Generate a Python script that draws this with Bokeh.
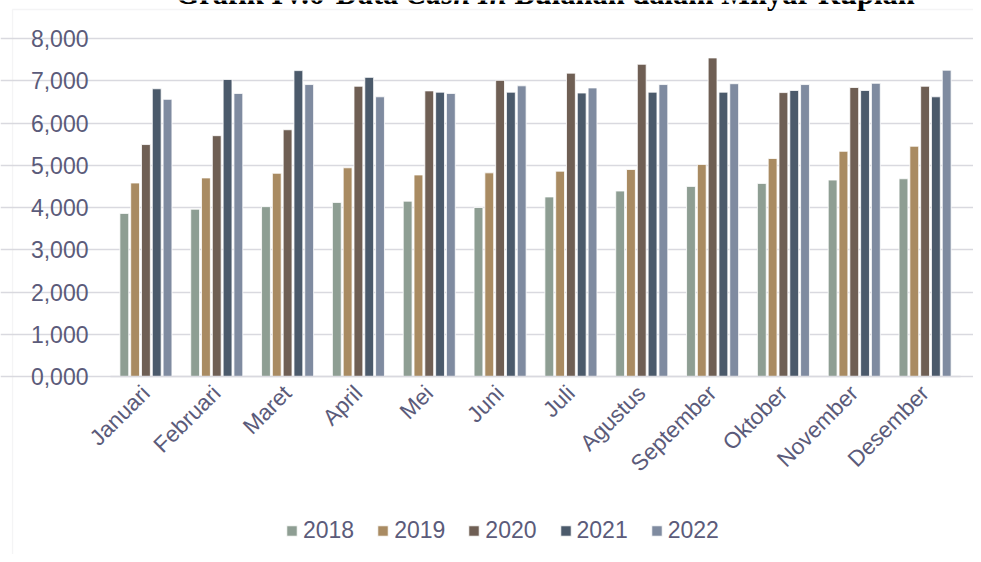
import math
from bokeh.plotting import figure
from bokeh.models import (Range1d, FixedTicker, Legend, LegendItem,
                          Label, PolyAnnotation, ColumnDataSource)
from bokeh.transform import dodge
from bokeh.embed import file_html
from bokeh.resources import INLINE

# ---------------- data ----------------
months = ["Januari", "Februari", "Maret", "April", "Mei", "Juni", "Juli",
          "Agustus", "September", "Oktober", "November", "Desember"]
years = ["2018", "2019", "2020", "2021", "2022"]
v2018 = [3860, 3960, 4020, 4120, 4150, 4000, 4250, 4390, 4500, 4570, 4650, 4680]
v2019 = [4580, 4700, 4810, 4940, 4770, 4820, 4860, 4900, 5020, 5160, 5330, 5450]
v2020 = [5490, 5700, 5840, 6870, 6760, 7010, 7180, 7390, 7540, 6720, 6840, 6870]
v2021 = [6810, 7030, 7240, 7080, 6730, 6730, 6710, 6730, 6730, 6770, 6770, 6620]
v2022 = [6560, 6700, 6910, 6620, 6700, 6880, 6830, 6910, 6930, 6910, 6940, 7250]
y_ticks = [0, 1000, 2000, 3000, 4000, 5000, 6000, 7000, 8000]
y_tick_labels = ["0,000", "1,000", "2,000", "3,000", "4,000", "5,000",
                 "6,000", "7,000", "8,000"]
title_parts = ["Grafik IV.6", "Data", "Cash In", "Bulanan dalam Milyar Rupiah"]
title_em = [5.0, 2.055, 3.307, 13.14]   # approximate widths (em) for placement

colors = ["#8e9e93", "#a98b62", "#6f5f54", "#4b5a6b", "#7f8ba0"]
text_color = "#5b5b7a"
grid_color = "#d9d9df"
FONT = "Liberation Sans"

# category positions on the x scale (1..12)
xc = [i + 1 for i in range(len(months))]
src = ColumnDataSource(dict(xc=xc, y2018=v2018, y2019=v2019,
                            y2020=v2020, y2021=v2021, y2022=v2022))

# layout in pixels: the plot area spans FL..FR horizontally, FT..FB vertically
W, H = 973, 554
FL, FR, FT, FB = 110, 960, 38, 376
KX = len(months) / (FR - FL)
KY = 8000 / (FB - FT)
def px_x(px):
    return 0.5 + (px - FL) * KX
def px_y(py):
    return (FB - py) * KY

p = figure(x_range=Range1d(px_x(0), px_x(W)), y_range=Range1d(px_y(H), px_y(0)),
           width=W, height=H, output_backend="svg", toolbar_location=None,
           title=None, min_border=0, min_border_left=0, min_border_right=0,
           min_border_top=0, min_border_bottom=0)
p.outline_line_color = None
p.background_fill_color = "white"
p.border_fill_color = "white"

offsets = [-0.305, -0.1525, 0.0, 0.1525, 0.305]
renderers = []
for yr, off, col in zip(years, offsets, colors):
    r = p.vbar(x=dodge("xc", off), top="y" + yr, width=0.125,
               source=src, fill_color=col, line_color="white", line_width=0.8)
    renderers.append(r)

# x axis (fixed at y = 0)
p.xaxis.fixed_location = 0
p.xaxis.bounds = (0.5, len(months) + 0.5)
p.xaxis.ticker = FixedTicker(ticks=xc)
p.xaxis.major_label_overrides = {x: m for x, m in zip(xc, months)}
p.xaxis.major_label_orientation = math.pi / 4
p.xaxis.major_tick_line_color = None
p.xaxis.minor_tick_line_color = None
p.xaxis.major_tick_out = 0
p.xaxis.axis_line_color = grid_color
p.xaxis.axis_line_width = 1.3
p.xaxis.major_label_text_font = FONT
p.xaxis.major_label_text_font_size = "22.5px"
p.xaxis.major_label_text_color = text_color
p.xaxis.major_label_standoff = 13

# y axis (fixed at the left edge of the category area)
p.yaxis.fixed_location = 0.5
p.yaxis.ticker = FixedTicker(ticks=y_ticks)
p.yaxis.major_label_overrides = {t: s for t, s in zip(y_ticks, y_tick_labels)}
p.yaxis.axis_line_color = None
p.yaxis.major_tick_line_color = None
p.yaxis.minor_tick_line_color = None
p.yaxis.major_tick_out = 0
p.yaxis.major_label_standoff = 22
p.yaxis.major_label_text_font = FONT
p.yaxis.major_label_text_font_size = "23px"
p.yaxis.major_label_text_color = text_color

p.xgrid.grid_line_color = None
p.ygrid.ticker = FixedTicker(ticks=y_ticks)
p.ygrid.bounds = (0.5, len(months) + 0.5)
p.ygrid.grid_line_color = grid_color
p.ygrid.grid_line_width = 1.3

# legend
legend = Legend(items=[LegendItem(label=yr, renderers=[r]) for yr, r in zip(years, renderers)],
                orientation="horizontal", location=(285, 10),
                glyph_width=13, glyph_height=13, label_standoff=5, spacing=22,
                padding=0, margin=0, border_line_color=None,
                background_fill_alpha=0,
                label_text_font=FONT, label_text_font_size="23px",
                label_text_color=text_color)
p.add_layout(legend)

# chart-area border (left and top edges visible)
p.add_layout(PolyAnnotation(xs=[px_x(12), px_x(1400), px_x(1400), px_x(12)],
                            ys=[px_y(9), px_y(9), px_y(1000), px_y(1000)],
                            fill_alpha=0, line_color=grid_color, line_width=1.3))

# title (cut off at the top edge, as in the reference)
TFS = 30.5
tx = 175.0
for txt, em in zip(title_parts, title_em):
    p.add_layout(Label(x=px_x(tx), y=px_y(-7), text=txt, text_align="left",
                       text_baseline="alphabetic", text_font="Liberation Serif",
                       text_font_size=f"{TFS}px",
                       text_font_style="bold italic" if txt == "Cash In" else "bold",
                       text_color="black"))
    tx += (em + 0.25) * TFS

open("out.html", "w").write(file_html(p, INLINE))
